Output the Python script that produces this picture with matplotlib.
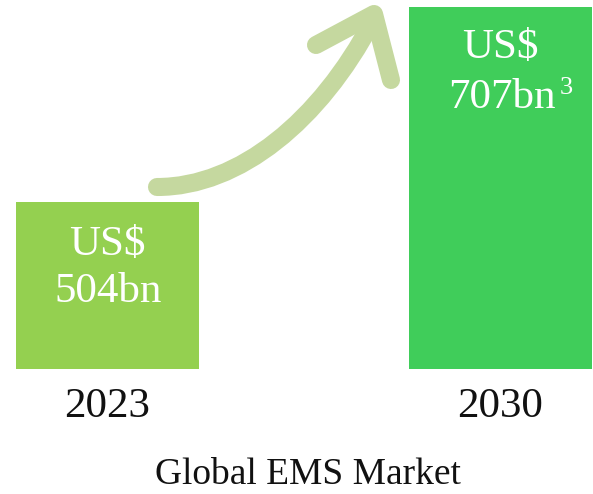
import matplotlib.pyplot as plt
from matplotlib.path import Path
from matplotlib.patches import PathPatch

# data
years = ['2023', '2030']
market = [504, 707]
currency = ['US$', 'US$']
values = ['504bn', '707bn']
bar_colors = ['#94d050', '#40cd5a']

plt.rcParams['font.family'] = ['Liberation Serif', 'DejaVu Serif']

fig = plt.figure(figsize=(5.93, 4.94), dpi=100)
W, H = 593, 494

# axes spans the bar area (bottom of bars to top of tallest bar)
ax = fig.add_axes([0, (H - 369) / H, 1, (369 - 7) / H])
x = [0, 1]
ax.bar(x, market, width=0.465, color=bar_colors, bottom=0)
ax.set_ylim(330, 707)
ax.set_xlim(-0.272, 1.235)

for sp in ax.spines.values():
    sp.set_visible(False)
ax.set_yticks([])
ax.set_xticks(x)
ax.set_xticklabels(years, fontsize=31, color='#111111')
ax.tick_params(axis='x', length=0, pad=13)

# value labels inside bars (baselines in figure pixels)
def fp(px, py):
    return (px / W, 1 - py / H)

base = [(255, 302), (58, 108)]
for i in range(2):
    xpix = 107 + 393.5 * x[i]
    ax.text(*fp(xpix, base[i][0]), currency[i], transform=fig.transFigure,
            ha='center', va='baseline', fontsize=31, color='white')
    ax.text(*fp(xpix + 1, base[i][1]), values[i], transform=fig.transFigure,
            ha='center', va='baseline', fontsize=31, color='white')
# footnote mark
fig.text(*fp(566, 94), '3', ha='center', va='baseline', fontsize=19,
         color='white')

# title under chart
fig.text(*fp(308, 484), 'Global EMS Market', ha='center', va='baseline',
         fontsize=27, color='#111111')

# curved growth arrow (figure pixel coords -> fraction)
shaft = Path([fp(157, 187), fp(240, 187), fp(320, 120), fp(372, 22)],
             [Path.MOVETO, Path.CURVE4, Path.CURVE4, Path.CURVE4])
head = Path([fp(316, 45), fp(374, 14), fp(391, 80)],
            [Path.MOVETO, Path.LINETO, Path.LINETO])
arrow_col = '#c5d89f'
for p in (shaft, head):
    patch = PathPatch(p, facecolor='none', edgecolor=arrow_col, lw=13,
                      capstyle='round', joinstyle='round',
                      transform=fig.transFigure)
    fig.add_artist(patch)

fig.savefig('out.png', dpi=100)
